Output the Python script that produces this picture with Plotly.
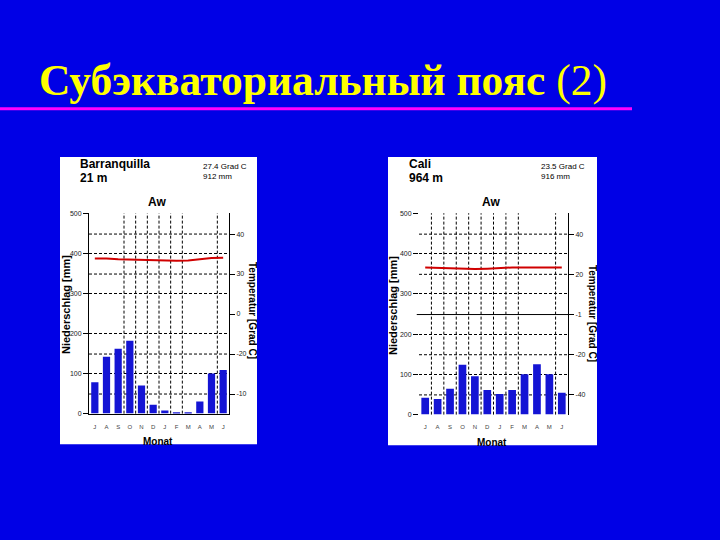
import plotly.graph_objects as go

# ---------------- data ----------------
months = ["J", "A", "S", "O", "N", "D", "J", "F", "M", "A", "M", "J"]

barr_precip = [78, 142, 162, 182, 70, 22, 8, 3, 2, 30, 100, 109]
barr_temp = [33.9, 33.9, 33.7, 33.6, 33.5, 33.4, 33.3, 33.3, 33.4, 33.7, 34.0, 34.1]

cali_precip = [42, 39, 64, 124, 95, 61, 51, 61, 100, 125, 100, 54]
cali_temp = [31.7, 31.6, 31.5, 31.4, 31.3, 31.4, 31.6, 31.7, 31.7, 31.7, 31.7, 31.7]

precip_ticks = [0, 100, 200, 300, 400, 500]
temp_ticks = [0, 10, 20, 30, 40]
barr_temp_labels = ["-10", "-20", "0", "30", "40"]
cali_temp_labels = ["-40", "-20", "-1", "20", "40"]

barr_vlines = [2.5, 3.5, 4.5, 5.5, 6.5, 7.5, 10.5]
cali_vlines = [0.5, 1.5, 2.5, 3.5, 4.5, 5.5, 6.5, 7.5, 10.5]

barr_temp_grid = [0, 10, 30, 40]
cali_temp_grid = [0, 10, 30, 40]
cali_temp_solid = [20]

# ---------------- layout helpers ----------------
W, H = 720, 540
BG = "#0000E6"
BAR = "#1414D4"
LINE = "#D00000"
FONT = "Liberation Sans"


def px(x):
    return x / W


def py(y):
    return 1 - y / H


fig = go.Figure()

# bars and temperature lines
fig.add_trace(go.Bar(x=list(range(12)), y=barr_precip, width=0.62, marker=dict(color=BAR, line=dict(width=0)),
                     xaxis="x", yaxis="y", showlegend=False))
fig.add_trace(go.Scatter(x=list(range(12)), y=barr_temp, mode="lines", line=dict(color=LINE, width=2),
                         xaxis="x", yaxis="y2", showlegend=False))
fig.add_trace(go.Bar(x=list(range(12)), y=cali_precip, width=0.62, marker=dict(color=BAR, line=dict(width=0)),
                     xaxis="x3", yaxis="y3", showlegend=False))
fig.add_trace(go.Scatter(x=list(range(12)), y=cali_temp, mode="lines", line=dict(color=LINE, width=2),
                         xaxis="x3", yaxis="y4", showlegend=False))

tickfont = dict(family=FONT, size=7, color="#222222")
monthfont = dict(family=FONT, size=6, color="#444444")

L = dict(x0=89, x1=229, y0=212, y1=415)
R = dict(x0=419, x1=568, y0=212, y1=416)

common_x = dict(range=[-0.5, 11.5], tickmode="array", tickvals=list(range(12)), ticktext=months,
                tickfont=monthfont, ticks="", showgrid=False, zeroline=False, ticklabelstandoff=7)
common_py = dict(range=[0, 500], tickmode="array", tickvals=precip_ticks, tickfont=tickfont,
                 ticks="outside", ticklen=5, tickcolor="black", showgrid=True, gridcolor="black",
                 gridwidth=1, griddash="3px,2px", zeroline=False)
common_ty = dict(range=[-4.9, 45.2], tickmode="array", tickvals=temp_ticks, tickfont=tickfont,
                 ticks="outside", ticklen=5, tickcolor="black", showgrid=False, zeroline=False,
                 side="right", showline=True, linecolor="black", linewidth=1)

fig.update_layout(
    xaxis=dict(domain=[px(L["x0"]), px(L["x1"])], anchor="y", showline=True, linecolor="black", **common_x),
    yaxis=dict(domain=[py(L["y1"]), py(L["y0"])], anchor="x", showline=True, linecolor="black", **common_py),
    yaxis2=dict(overlaying="y", anchor="x", ticktext=barr_temp_labels, **common_ty),
    xaxis3=dict(domain=[px(R["x0"]), px(R["x1"])], anchor="y3", showline=False, **common_x),
    yaxis3=dict(domain=[py(R["y1"]), py(R["y0"])], anchor="x3", showline=False, **common_py),
    yaxis4=dict(overlaying="y3", anchor="x3", ticktext=cali_temp_labels, **common_ty),
)

shapes = []
# white panels
shapes.append(dict(type="rect", xref="paper", yref="paper", x0=px(60), x1=px(257), y0=py(446), y1=py(155),
                   fillcolor="white", line=dict(width=0), layer="below"))
shapes.append(dict(type="rect", xref="paper", yref="paper", x0=px(388), x1=px(597), y0=py(447), y1=py(155),
                   fillcolor="white", line=dict(width=0), layer="below"))
# magenta rule under title
shapes.append(dict(type="line", xref="paper", yref="paper", x0=0, x1=px(632), y0=py(106), y1=py(106),
                   line=dict(color="#FF00FF", width=3)))
# vertical dashed month lines
for v in barr_vlines:
    shapes.append(dict(type="line", xref="x", yref="y domain", x0=v, x1=v, y0=0, y1=1,
                       line=dict(color="black", width=1, dash="3px,2px"), layer="below"))
for v in cali_vlines:
    shapes.append(dict(type="line", xref="x3", yref="y3 domain", x0=v, x1=v, y0=0, y1=1,
                       line=dict(color="black", width=1, dash="3px,2px"), layer="below"))
# temperature grid lines
for t in barr_temp_grid:
    shapes.append(dict(type="line", xref="x domain", yref="y2", x0=0, x1=1, y0=t, y1=t,
                       line=dict(color="black", width=1, dash="3px,2px"), layer="below"))
for t in cali_temp_grid:
    shapes.append(dict(type="line", xref="x3 domain", yref="y4", x0=0, x1=1, y0=t, y1=t,
                       line=dict(color="black", width=1, dash="3px,2px"), layer="below"))
for t in cali_temp_solid:
    shapes.append(dict(type="line", xref="x3 domain", yref="y4", x0=-0.015, x1=1, y0=t, y1=t,
                       line=dict(color="black", width=1), layer="below"))
fig.update_layout(shapes=shapes)

ann = []


def text(x, y, s, size, bold=False, xanchor="left", angle=0, color="black", family=FONT):
    ann.append(dict(x=px(x), y=py(y), xref="paper", yref="paper", text=("<b>%s</b>" % s) if bold else s,
                    showarrow=False, xanchor=xanchor, yanchor="middle", textangle=angle,
                    font=dict(family=family, size=size, color=color)))


# title
ann.append(dict(x=px(37), y=py(78), xref="paper", yref="paper",
                text="<b>Субэкваториальный пояс</b> (2)", showarrow=False, xanchor="left", yanchor="middle",
                font=dict(family="Liberation Serif", size=43.5, color="#FFFF00")))

# left panel texts
text(78, 162, "Barranquilla", 12, bold=True)
text(78, 176, "21 m", 12, bold=True)
text(201, 165, "27.4 Grad C", 8)
text(201, 175, "912 mm", 8)
text(157, 201, "Aw", 12, bold=True, xanchor="center")
text(66, 305, "Niederschlag [mm]", 11, bold=True, xanchor="center", angle=-90)
text(252, 311, "Temperatur [Grad C]", 10, bold=True, xanchor="center", angle=90)
text(158, 443, "Monat", 10, bold=True, xanchor="center")

# right panel texts
text(407, 162, "Cali", 12, bold=True)
text(407, 176, "964 m", 12, bold=True)
text(539, 165, "23.5 Grad C", 8)
text(539, 175, "916 mm", 8)
text(491, 201, "Aw", 12, bold=True, xanchor="center")
text(393, 305, "Niederschlag [mm]", 11, bold=True, xanchor="center", angle=-90)
text(592, 313, "Temperatur [Grad C]", 10, bold=True, xanchor="center", angle=90)
text(492, 444, "Monat", 10, bold=True, xanchor="center")

fig.update_layout(
    annotations=ann,
    width=W, height=H,
    margin=dict(l=0, r=0, t=0, b=0),
    paper_bgcolor=BG,
    plot_bgcolor="rgba(0,0,0,0)",
    showlegend=False,
    bargap=0.3,
)

fig.write_html("out.html", config={"displayModeBar": False},
               post_script="document.body.style.margin='0';document.body.style.overflow='hidden';")
